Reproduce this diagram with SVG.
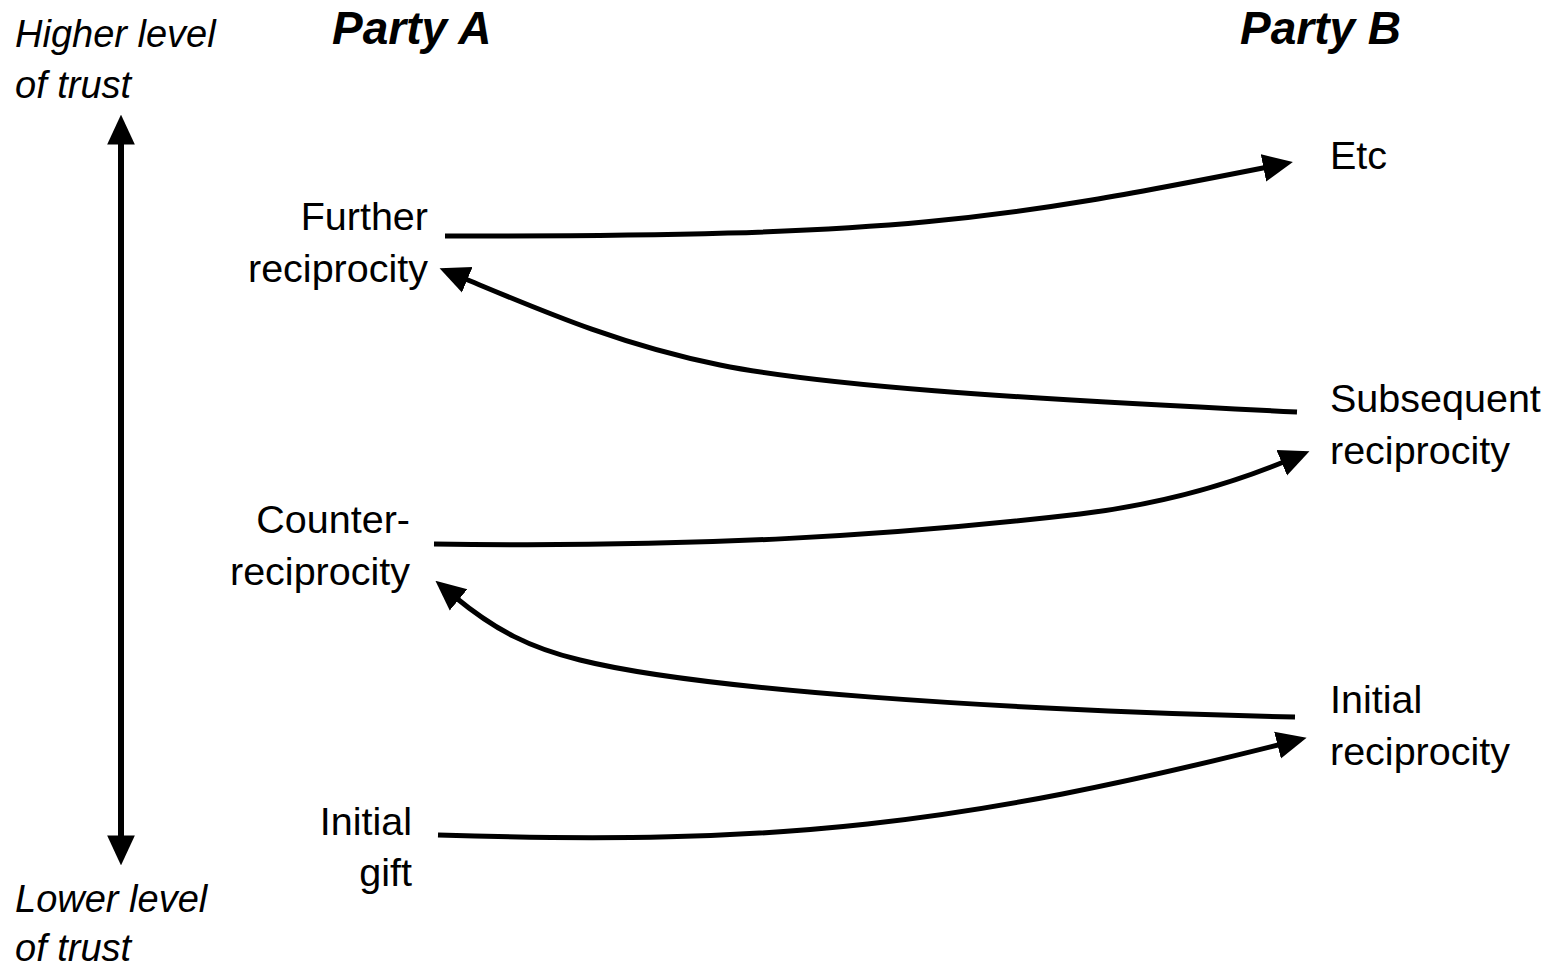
<svg xmlns="http://www.w3.org/2000/svg" width="1546" height="971" viewBox="0 0 1546 971">
<style>
.t{font-family:"Liberation Sans",Arial,sans-serif;font-size:39.5px;fill:#000}
.i{font-family:"Liberation Sans",Arial,sans-serif;font-size:38px;font-style:italic;fill:#000}
.h{font-family:"Liberation Sans",Arial,sans-serif;font-size:46px;font-style:italic;font-weight:bold;fill:#000}
.c{fill:none;stroke:#000;stroke-width:5}
</style>
<defs>
<marker id="ah" markerUnits="userSpaceOnUse" markerWidth="30" markerHeight="30" viewBox="0 0 26 24" refX="4" refY="12" orient="auto-start-reverse">
<path d="M0,0 L26,12 L0,24 Z" fill="#000"/>
</marker>
</defs>
<rect width="1546" height="971" fill="#fff"/>
<g id="labels">
<text class="i" x="15" y="47">Higher level</text>
<text class="i" x="15" y="98">of trust</text>
<text class="i" x="15" y="912">Lower level</text>
<text class="i" x="15" y="961">of trust</text>
<text class="h" x="332" y="44">Party A</text>
<text class="h" x="1240" y="44">Party B</text>
</g>
<g id="further"><text class="t" text-anchor="end" x="428" y="230">Further</text><text class="t" text-anchor="end" x="428" y="282">reciprocity</text></g>
<g id="counter"><text class="t" text-anchor="end" x="410" y="533">Counter-</text><text class="t" text-anchor="end" x="410" y="585">reciprocity</text></g>
<g id="gift"><text class="t" text-anchor="end" x="412" y="835">Initial</text><text class="t" text-anchor="end" x="412" y="886">gift</text></g>
<g id="etc"><text class="t" x="1330" y="169">Etc</text></g>
<g id="subsequent"><text class="t" x="1330" y="412">Subsequent</text><text class="t" x="1330" y="464">reciprocity</text></g>
<g id="initialrec"><text class="t" x="1330" y="713">Initial</text><text class="t" x="1330" y="765">reciprocity</text></g>
<g id="connectors">
<path class="c" d="M121,140 L121,840" marker-start="url(#ah)" marker-end="url(#ah)" style="stroke-width:6"/>
<path class="c" d="M438,835 C 780,846 960,825 1282,744" marker-end="url(#ah)"/>
<path class="c" d="M1295,717 C 1000,710 700,690 580,660 C 530,648 495,630 455,597" marker-end="url(#ah)"/>
<path class="c" d="M434,544 C 700,548 900,535 1080,514 C 1170,503 1240,480 1286,461" marker-end="url(#ah)"/>
<path class="c" d="M1297,412 C 1000,398 820,385 720,365 C 620,345 540,310 463,278" marker-end="url(#ah)"/>
<path class="c" d="M445,236 C 900,237 1000,220 1268,167" marker-end="url(#ah)"/>
</g>
</svg>
